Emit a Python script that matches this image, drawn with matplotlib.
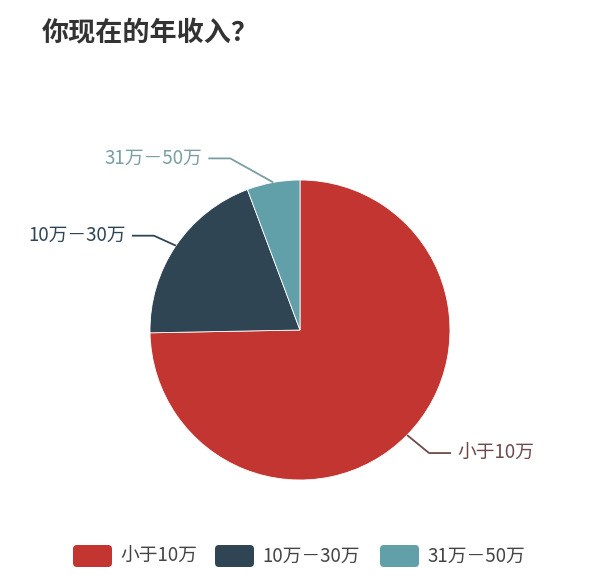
import numpy as np
import matplotlib
matplotlib.use("Agg")
import matplotlib.pyplot as plt
from matplotlib.patches import FancyBboxPatch

plt.rcParams['font.family'] = ['Noto Sans CJK SC', 'DejaVu Sans']

# =========================
# data
# =========================
TITLE = "你现在的年收入？"
labels = ["小于10万", "10万－30万", "31万－50万"]
values = [74.7, 19.6, 5.7]
colors = ["#c23531", "#2f4554", "#61a0a8"]
label_colors = ["#6e4a4a", "#2f4554", "#7a9ea2"]

# =========================
# layout (pixels, y up)
# =========================
W, H = 600, 586
CX, CY, R = 300, 586 - 330, 150
# elbow offset from the wedge edge, then horizontal length
ELBOW = [(22, -18), (-22, 10), (-43, 24)]
HLEN = 22

fig = plt.figure(figsize=(6, 5.86), dpi=100)
ax = fig.add_axes([0, 0, 1, 1])
ax.set_xlim(0, W)
ax.set_ylim(0, H)
ax.set_aspect("equal")
ax.axis("off")

wedges, _ = ax.pie(values, colors=colors, startangle=90, counterclock=False,
                   center=(CX, CY), radius=R,
                   wedgeprops=dict(linewidth=0.6, edgecolor="white"))
ax.set_xlim(0, W)
ax.set_ylim(0, H)

for w, lab, lc, (ex, ey) in zip(wedges, labels, label_colors, ELBOW):
    ang = np.deg2rad((w.theta1 + w.theta2) / 2)
    x0 = CX + R * np.cos(ang)
    y0 = CY + R * np.sin(ang)
    x1, y1 = x0 + ex, y0 + ey
    side = 1 if np.cos(ang) > 0 else -1
    x2 = x1 + side * HLEN
    ax.plot([x0, x1, x2], [y0, y1, y1], color=lc, lw=1.3,
            solid_capstyle="butt")
    ax.text(x2 + side * 6, y1, lab, color=lc, fontsize=13.5,
            ha="left" if side > 0 else "right", va="center")

# title
ax.text(42, H - 33, TITLE, fontsize=19.5, fontweight="bold", color="#333333",
        ha="left", va="center")

# legend
leg_x = [73, 215, 380]
leg_y = H - 556
for x, lab, c in zip(leg_x, labels, colors):
    ax.add_patch(FancyBboxPatch((x, leg_y - 11), 39, 22,
                                boxstyle="round,pad=0,rounding_size=4",
                                fc=c, ec="none"))
    ax.text(x + 47, leg_y, lab, fontsize=13.5, color="#444444",
            ha="left", va="center")

fig.savefig("out.png", dpi=100, facecolor="white")
